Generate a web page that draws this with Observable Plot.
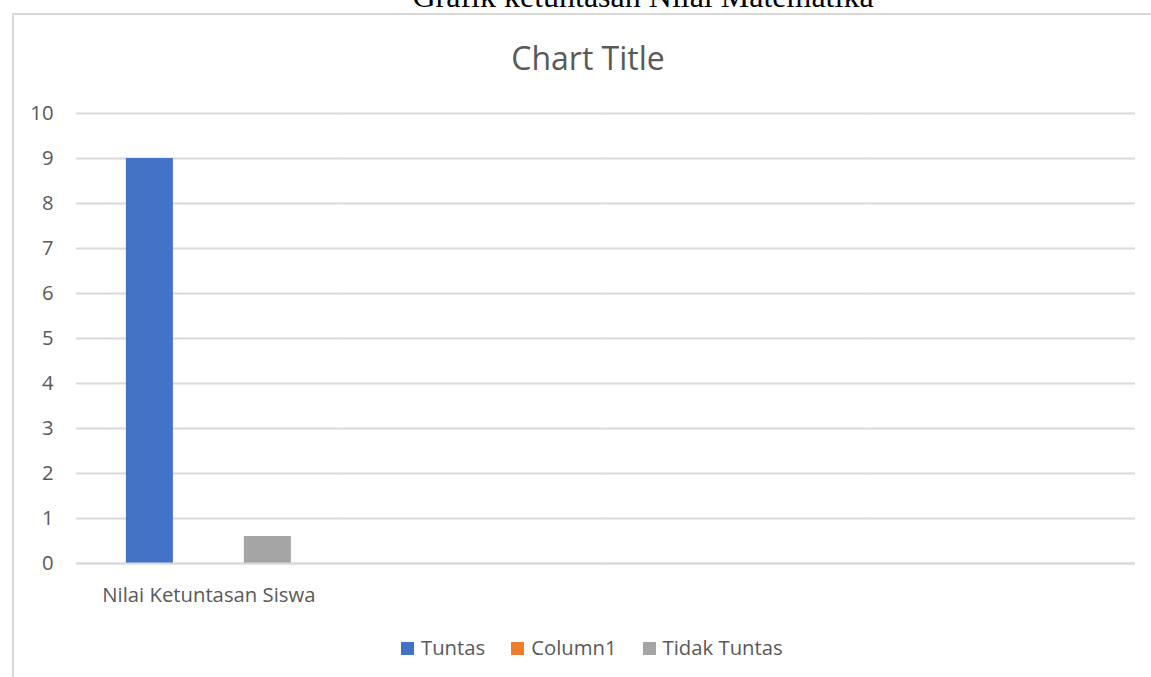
<!DOCTYPE html>
<html>
<head>
<meta charset="utf-8">
<script src="https://cdn.jsdelivr.net/npm/d3@7"></script>
<script src="https://cdn.jsdelivr.net/npm/@observablehq/plot@0.6"></script>
<style>
  html, body { margin: 0; padding: 0; background: #fff; }
  body { width: 1151px; height: 677px; overflow: hidden; position: relative; font-family: "Open Sans", sans-serif; }
  #doc-title { position: absolute; left: 0; width: 1286px; top: -20px; text-align: center;
    font-family: "Liberation Serif", "Times New Roman", serif; font-size: 32px; line-height: 32px; color: #000; white-space: nowrap; }
  #frame { position: absolute; left: 12px; top: 13px; width: 1200px; height: 700px;
    border-left: 2px solid #d9d9d9; border-top: 2px solid #d9d9d9; }
  #chart-title { position: absolute; left: 0; width: 1176px; top: 42px; text-align: center;
    font-size: 32px; line-height: 32px; color: #595959; white-space: nowrap; }
  #plot { position: absolute; left: 0; top: 0; }
  #legend { position: absolute; left: 401px; top: 632px; display: flex; align-items: center;
    font-size: 20.3px; line-height: 30px; color: #595959; white-space: nowrap; }
  #legend .item { display: flex; align-items: center; margin-right: 26px; }
  #legend .sw { width: 13px; height: 13px; margin-right: 7px; margin-top: 3px; }
</style>
</head>
<body>
<div id="doc-title"></div>
<div id="frame"></div>
<div id="plot"></div>
<div id="chart-title"></div>
<div id="legend"></div>
<script>
// ---- data ----
const docTitle = "Grafik ketuntasan Nilai Matematika";
const chartTitle = "Chart Title";
const categories = ["Nilai Ketuntasan Siswa", " ", "  ", "   "];
const seriesNames = ["Tuntas", "Column1", "Tidak Tuntas"];
const seriesColors = ["#4472C4", "#ED7D31", "#A5A5A5"];
const tuntasValues = [9];
const column1Values = [0];
const tidakTuntasValues = [0.6];
const yTicks = [0, 1, 2, 3, 4, 5, 6, 7, 8, 9, 10];

// table built from the arrays
const seriesValues = [tuntasValues, column1Values, tidakTuntasValues];
const data = [];
seriesValues.forEach((vals, si) => {
  vals.forEach((v, ci) => data.push({category: categories[ci], series: seriesNames[si], value: v}));
});
// grid lines for every category band (so that empty bands are drawn too)
const gridData = [];
categories.forEach(c => yTicks.forEach(t => gridData.push({category: c, tick: t})));

document.getElementById("doc-title").textContent = docTitle;
document.getElementById("chart-title").textContent = chartTitle;

const plot = Plot.plot({
  width: 1151,
  height: 620,
  marginLeft: 76,
  marginRight: 16,
  marginTop: 113,
  marginBottom: 57,
  style: {background: "transparent", fontFamily: "Open Sans", fontSize: "20.3px", color: "#595959"},
  fx: {domain: categories, padding: 0, round: false, axis: "bottom", label: null, tickSize: 0, tickPadding: 24.5},
  x: {domain: seriesNames, paddingInner: 0.203, paddingOuter: 0.845, round: false, axis: null},
  y: {domain: [0, 10], ticks: yTicks, tickSize: 0, tickPadding: 23, label: null},
  color: {domain: seriesNames, range: seriesColors},
  marks: [
    Plot.gridY(gridData, {fx: "category", y: "tick", stroke: "#d9d9d9", strokeOpacity: 1, strokeWidth: 2}),
    Plot.barY(data, {fx: "category", x: "series", y: "value", fill: "series", inset: 0}),
    Plot.ruleY(gridData.filter(d => d.tick === 0), {fx: "category", y: "tick", stroke: "#d9d9d9", strokeWidth: 2})
  ]
});
document.getElementById("plot").appendChild(plot);

// legend
const legend = d3.select("#legend");
seriesNames.forEach((name, i) => {
  const item = legend.append("div").attr("class", "item");
  item.append("div").attr("class", "sw").style("background", seriesColors[i]);
  item.append("span").text(name);
});
</script>
</body>
</html>
